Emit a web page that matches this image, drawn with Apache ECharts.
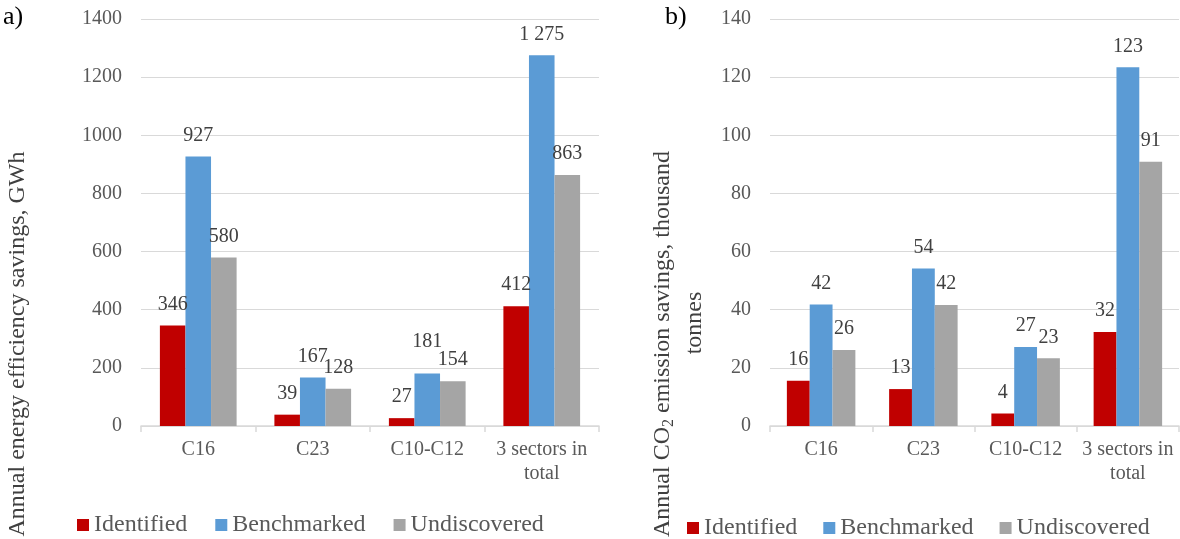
<!DOCTYPE html>
<html>
<head>
<meta charset="utf-8">
<script src="https://cdn.jsdelivr.net/npm/echarts@6/dist/echarts.min.js"></script>
<style>
html,body{margin:0;padding:0;background:#fff;}
#c{width:1180px;height:539px;}
</style>
</head>
<body>
<div id="c"></div>
<script>
// ---- data ----
const categories = ['C16', 'C23', 'C10-C12', '3 sectors in\ntotal'];
const seriesNames = ['Identified', 'Benchmarked', 'Undiscovered'];
const energyIdentified = [346, 39, 27, 412];
const energyBenchmarked = [927, 167, 181, 1275];
const energyUndiscovered = [580, 128, 154, 863];
const co2Identified = [15.6, 12.7, 4.3, 32.3];
const co2Benchmarked = [41.8, 54.2, 27.2, 123.4];
const co2Undiscovered = [26.1, 41.6, 23.3, 90.9];
const energyTicks = [0, 200, 400, 600, 800, 1000, 1200, 1400];
const co2Ticks = [0, 20, 40, 60, 80, 100, 120, 140];

const colors = ['#C00000', '#5B9BD5', '#A5A5A5'];
const FONT = 'Liberation Serif';

function fmt(v) {
  return String(Math.round(v)).replace(/\B(?=(\d{3})+(?!\d))/g, ' ');
}

function xAxis(gridIndex) {
  return {
    type: 'category', gridIndex: gridIndex, data: categories,
    axisLine: { lineStyle: { color: '#d9d9d9', width: 1.5 } },
    axisTick: { show: true, length: 6, lineStyle: { color: '#d9d9d9', width: 1.5 } },
    axisLabel: { color: '#595959', fontFamily: FONT, fontSize: 20, margin: 12, lineHeight: 24, interval: 0 }
  };
}
function yAxis(gridIndex, ticks) {
  return {
    type: 'value', gridIndex: gridIndex,
    min: ticks[0], max: ticks[ticks.length - 1], interval: ticks[1] - ticks[0],
    axisLine: { show: false }, axisTick: { show: false },
    splitLine: { lineStyle: { color: '#d9d9d9', width: 1 } },
    axisLabel: { color: '#595959', fontFamily: FONT, fontSize: 20, margin: 19, formatter: v => String(v) }
  };
}
// label raised for one point to avoid overlap (as in the source figure)
const raised = { '0-1-2': 22 };
function bar(name, data, idx, axisIdx, gap) {
  return {
    type: 'bar', name: name,
    data: data.map((v, i) => {
      const d = raised[axisIdx + '-' + idx + '-' + i];
      return d ? { value: v, label: { distance: d } } : v;
    }),
    xAxisIndex: axisIdx, yAxisIndex: axisIdx,
    barGap: '0%', barCategoryGap: gap,
    itemStyle: { color: colors[idx] },
    label: {
      show: true, position: 'top', distance: 11,
      color: '#404040', fontFamily: FONT, fontSize: 20,
      formatter: p => fmt(p.value)
    }
  };
}

const chart = echarts.init(document.getElementById('c'), null, { renderer: 'canvas' });
const legendBase = {
  icon: 'rect', itemWidth: 12, itemHeight: 12, padding: 0,
  textStyle: { color: '#595959', fontFamily: FONT, fontSize: 24 },
  data: seriesNames, selectedMode: false
};
chart.setOption({
  animation: false,
  backgroundColor: '#ffffff',
  textStyle: { fontFamily: FONT },
  grid: [
    { left: 141, right: 581, top: 19, bottom: 113 },
    { left: 770, right: 1, top: 19, bottom: 113 }
  ],
  xAxis: [xAxis(0), xAxis(1)],
  yAxis: [yAxis(0, energyTicks), yAxis(1, co2Ticks)],
  legend: [
    Object.assign({}, legendBase, { left: 77, top: 513, itemGap: 28 }),
    Object.assign({}, legendBase, { left: 687, top: 516, itemGap: 26 })
  ],
  series: [
    bar(seriesNames[0], energyIdentified, 0, 0, '33%'),
    bar(seriesNames[1], energyBenchmarked, 1, 0, '33%'),
    bar(seriesNames[2], energyUndiscovered, 2, 0, '33%'),
    bar(seriesNames[0], co2Identified, 0, 1, '33%'),
    bar(seriesNames[1], co2Benchmarked, 1, 1, '33%'),
    bar(seriesNames[2], co2Undiscovered, 2, 1, '33%')
  ],
  graphic: [
    { type: 'text', x: 3, y: 4, style: { text: 'a)', font: '26px ' + FONT, fill: '#000' } },
    { type: 'text', x: 665, y: 4, style: { text: 'b)', font: '26px ' + FONT, fill: '#000' } },
    { type: 'text', x: 18, y: 344, rotation: Math.PI / 2,
      style: { text: 'Annual energy efficiency savings, GWh', font: '24px ' + FONT, fill: '#404040', align: 'center', verticalAlign: 'middle' } },
    { type: 'text', x: 663, y: 344, rotation: Math.PI / 2,
      style: {
        text: '{a|Annual CO}{s|2}{a| emission savings, thousand}',
        align: 'center', verticalAlign: 'middle',
        rich: {
          a: { fontFamily: FONT, fontSize: 24, fill: '#404040', color: '#404040', lineHeight: 28, verticalAlign: 'middle' },
          s: { fontFamily: FONT, fontSize: 16, fill: '#404040', color: '#404040', lineHeight: 28, verticalAlign: 'bottom', padding: [10, 0, 0, 0] }
        }
      } },
    { type: 'text', x: 695, y: 323, rotation: Math.PI / 2,
      style: { text: 'tonnes', font: '24px ' + FONT, fill: '#404040', align: 'center', verticalAlign: 'middle' } }
  ]
});
</script>
</body>
</html>
